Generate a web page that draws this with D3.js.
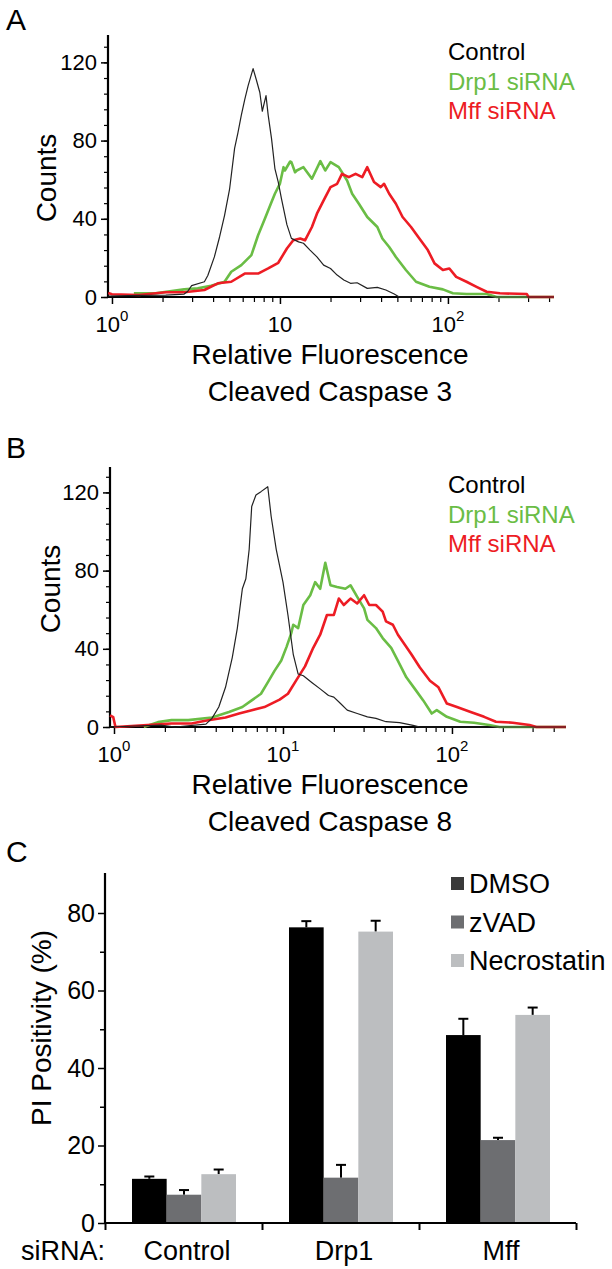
<!DOCTYPE html>
<html lang="en">
<head>
<meta charset="utf-8">
<title>Caspase histograms and PI positivity</title>
<script src="https://cdn.jsdelivr.net/npm/d3@7"></script>
<style>
  body { margin: 0; background: #fff; }
  text { font-family: "Liberation Sans", Arial, sans-serif; fill: #000; }
</style>
</head>
<body>
<script>
// ---- data: panel A (cleaved caspase 3), [fluorescence, counts]
var ctrlA = [[0.95,0.5],[1.45,0.8],[2.09,1],[2.69,1.5],[2.82,2.8],[2.98,5.8],[3.55,7.8],[3.72,11],[4.07,20.5],[4.37,30.7],[4.68,41.8],[5.01,55],[5.37,76],[5.62,84],[5.89,93],[6.17,101],[6.46,108],[6.92,116.8],[7.24,111],[7.59,104.6],[7.85,95],[8.26,103],[8.51,93],[8.91,81],[9.33,65.7],[9.77,58.8],[10.2,50.4],[11.0,37],[11.7,30],[12.9,28.2],[13.8,27.5],[15.1,24],[16.6,20.5],[18.2,16.3],[20.0,14.6],[21.9,11.2],[24.0,8.7],[26.3,7],[28.8,7.3],[33.1,4.4],[38.0,4.9],[42.7,3.6],[47.9,1.5],[51.3,0],[428,0]];
var drp1A = [[1.35,1.9],[1.82,1.9],[2.69,3.9],[3.24,4.4],[3.89,5.8],[4.68,7.8],[5.13,12.9],[5.89,16.3],[6.76,21.4],[7.41,31.6],[8.13,40],[8.91,48.6],[9.33,52.8],[10,58],[10.5,66.4],[10.7,64.7],[11.5,69.3],[11.7,69],[12.3,63.8],[12.6,64.7],[13.8,66.4],[15.5,60.5],[17.4,69.5],[18.6,64.7],[20.0,69],[22.4,66.4],[25.1,59.6],[26.9,52.8],[29.5,47.7],[33.1,40.9],[38.0,35.8],[40.7,29.9],[44.7,25.6],[49.0,20.5],[56.2,13.8],[64.6,7.8],[77.6,5.2],[93.3,3.9],[107,1.9],[129,1.5],[170,1.5],[195,0],[428,0]];
var mffA = [[0.95,2],[1.0,1.4],[1.45,1],[2.09,2.4],[2.69,2.4],[3.55,3.6],[4.27,7],[5.13,7.8],[6.17,12],[7.41,12],[8.51,14.6],[9.77,17.5],[11.0,24.8],[12.0,29],[13.2,29.9],[14.1,29],[15.5,35.8],[16.6,42.6],[18.2,49.4],[20.0,56.2],[21.9,57.9],[23.4,63],[25.7,61.3],[28.2,63],[30.9,61.3],[33.1,66.4],[36.3,58.8],[39.8,56.2],[41.7,57.9],[44.7,52.8],[49.0,47.7],[53.7,40.9],[60.3,35.8],[67.6,29.9],[75.9,24],[83.2,17.2],[93.3,13.8],[102,14.6],[112,10.3],[129,7.8],[148,5.2],[170,2.7],[204,1.9],[295,1.5],[302,0],[428,0]];

// ---- data: panel B (cleaved caspase 8)
var ctrlB = [[0.947,0],[1.9,1],[2.3,0],[3.5,1.5],[3.8,4.4],[4.17,10.2],[4.57,20.3],[5.01,35.5],[5.37,50.6],[5.75,70.7],[6.03,75.8],[6.31,90.9],[6.53,112.8],[6.92,118.7],[7.41,120.4],[8.13,122.9],[8.51,107.8],[9.12,90.9],[10,74.1],[10.7,57.3],[11.5,37.2],[12.3,27.1],[13.2,26.2],[14.8,22.8],[16.6,19.5],[18.6,16.1],[20,15.3],[21.9,12],[24,8.6],[27.5,6.9],[31.6,5.2],[35.5,4.4],[40.7,2.7],[49,2.2],[58.9,0.8],[64.6,0],[473,0]];
var drp1B = [[1.5,0],[1.82,2.5],[2.19,3.5],[2.75,3.5],[3.8,4.9],[4.79,7.7],[5.75,10.2],[6.53,13.6],[7.41,17],[8.13,22.8],[8.91,28.7],[9.77,34],[10.5,41],[11.2,48],[11.5,52.3],[12.3,50.6],[13.2,62.4],[14.5,67.4],[15.5,74.1],[16.6,70.7],[17.8,84],[19.1,72.5],[20.9,71.6],[23.4,70.7],[25.1,72.5],[27.5,66.6],[30.2,60.7],[31.6,54.8],[35.5,50.6],[38.9,45.5],[43.7,40.5],[47.9,33.8],[53.7,25.4],[60.3,19.5],[67.6,13.6],[75.9,6.9],[81.3,8.6],[93.3,5.2],[112,2.7],[135,2.2],[166,1],[191,0],[473,0]];
var mffB = [[0.947,6],[0.99,5],[1.02,0],[1.58,1],[2.19,1.8],[2.88,1.8],[3.47,3.2],[4.57,4.9],[5.5,6.9],[6.53,8.6],[7.76,10.2],[9.55,14],[10.7,17],[12,24],[13.5,31],[15.1,40.5],[16.6,47.2],[18.2,57.3],[20,57.3],[21.4,65.7],[22.9,62.4],[25.1,65.7],[27.5,63.2],[30.2,67.4],[32.4,62.4],[35.5,62.4],[38.9,59],[40.7,54],[44.7,52.3],[47.9,47.2],[52.5,42.2],[57.5,37.2],[64.6,30.4],[74.1,23.7],[83.2,20.3],[93.3,12],[107,10.2],[129,7.7],[155,5.2],[182,2.7],[229,2.2],[288,1],[316,0],[473,0]];

var histLegend = ["Control", "Drp1 siRNA", "Mff siRNA"];
var histTicksY = [0, 40, 80, 120];

// ---- data: panel C (PI positivity %)
var groups = ["Control", "Drp1", "Mff"];
var treatments = ["DMSO", "zVAD", "Necrostatin"];
var dmso = [11.4, 76.3, 48.5];
var dmsoErr = [0.6, 1.6, 4.2];
var zvad = [7.3, 11.7, 21.4];
var zvadErr = [1.2, 3.3, 0.6];
var necro = [12.6, 75.2, 53.7];
var necroErr = [1.2, 2.8, 1.9];
var barTicksY = [0, 20, 40, 60, 80];

var W = 612, H = 1269;
var lineColors = ["#222222", "#6abd45", "#ed1c24"];
var barColors = ["#000000", "#6d6e71", "#bcbec0"];
var legendSwatch = ["#3a3a3a", "#6d6e71", "#bcbec0"];

var svg = d3.select("body").append("svg")
    .attr("width", W)
    .attr("height", H);

function histPanel(o) {
    var x = d3.scaleLog().domain(o.xDomain).range(o.xRange);
    var y = d3.scaleLinear().domain([0, o.yMax]).range([o.y0, o.yTop]);
    var g = svg.append("g");

    // minor y ticks every 8
    g.append("g")
        .attr("transform", "translate(" + o.xRange[0] + ",0)")
        .call(d3.axisLeft(y).tickValues(d3.range(0, o.yMax, 8)).tickSize(4).tickFormat(""))
        .call(function(s) { s.select(".domain").remove(); s.selectAll("line").attr("stroke-width", 1.2); });
    // major y ticks
    g.append("g")
        .attr("transform", "translate(" + o.xRange[0] + ",0)")
        .call(d3.axisLeft(y).tickValues(histTicksY).tickSize(7).tickPadding(4))
        .call(function(s) {
            s.select(".domain").remove();
            s.selectAll("line").attr("stroke-width", 1.5);
            s.selectAll("text").style("font-size", "22px").attr("font-family", null);
        });

    // x ticks
    var minor = [2,3,4,5,6,7,8,9,20,30,40,50,60,70,80,90,200,300,400]
        .filter(function(v) { return v < o.xDomain[1]; });
    g.append("g")
        .attr("transform", "translate(0," + o.y0 + ")")
        .call(d3.axisBottom(x).tickValues(minor).tickSize(5).tickFormat(""))
        .call(function(s) { s.select(".domain").remove(); s.selectAll("line").attr("stroke-width", 1.2); });
    g.append("g")
        .attr("transform", "translate(0," + o.y0 + ")")
        .call(d3.axisBottom(x).tickValues([1, 10, 100]).tickSize(7).tickFormat(""))
        .call(function(s) { s.select(".domain").remove(); s.selectAll("line").attr("stroke-width", 1.5); });

    // axis lines
    g.append("line").attr("x1", o.xRange[0]).attr("x2", o.xRange[0])
        .attr("y1", o.yTop).attr("y2", o.y0 + 1)
        .attr("stroke", "#000").attr("stroke-width", 2.2);
    g.append("line").attr("x1", o.xRange[0] - 1).attr("x2", o.xRange[1])
        .attr("y1", o.y0).attr("y2", o.y0)
        .attr("stroke", "#000").attr("stroke-width", 2.2);

    // x tick labels with exponents
    o.xLabels.forEach(function(l) {
        var t = g.append("text")
            .attr("x", x(l.v))
            .attr("y", o.y0 + 35)
            .attr("text-anchor", "middle")
            .style("font-size", "22px");
        t.append("tspan").text("10");
        if (l.sup !== null) {
            t.append("tspan").attr("dy", -11).style("font-size", "15px").text(l.sup);
        }
    });

    // curves
    var line = d3.line()
        .x(function(d) { return x(d[0]); })
        .y(function(d) { return y(d[1]); });
    var series = [o.green, o.red, o.black];
    var cols = [lineColors[1], lineColors[2], lineColors[0]];
    var widths = [2.6, 2.6, 1.2];
    series.forEach(function(s, i) {
        g.append("path")
            .datum(s)
            .attr("d", line)
            .attr("fill", "none")
            .attr("stroke", cols[i])
            .attr("stroke-width", widths[i])
            .attr("stroke-linejoin", "round");
    });

    // legend
    histLegend.forEach(function(name, i) {
        g.append("text")
            .attr("x", o.legX)
            .attr("y", o.legY + i * 29.5)
            .style("font-size", "24px")
            .style("fill", lineColors[i] === "#222222" ? "#000" : lineColors[i])
            .text(name);
    });

    // axis titles
    g.append("text")
        .attr("transform", "translate(" + (o.countsX + 10) + "," + o.countsY + ") rotate(-90)")
        .attr("text-anchor", "middle")
        .style("font-size", "28px")
        .text("Counts");
    g.append("text")
        .attr("x", 330).attr("y", o.y0 + 67)
        .attr("text-anchor", "middle")
        .style("font-size", "28px")
        .text("Relative Fluorescence");
    g.append("text")
        .attr("x", 330).attr("y", o.y0 + 104)
        .attr("text-anchor", "middle")
        .style("font-size", "28px")
        .text(o.title);

    g.append("text")
        .attr("x", o.letterX).attr("y", o.letterY)
        .style("font-size", "30px")
        .text(o.letter);
}

histPanel({
    xDomain: [0.947, 428], xRange: [108, 554],
    yMax: 134, y0: 297, yTop: 35,
    xLabels: [{v: 1, sup: "0"}, {v: 10, sup: null}, {v: 100, sup: "2"}],
    black: ctrlA, green: drp1A, red: mffA,
    legX: 448, legY: 60,
    countsX: 46, countsY: 178,
    title: "Cleaved Caspase 3",
    letter: "A", letterX: 6, letterY: 30
});

histPanel({
    xDomain: [0.947, 473], xRange: [110, 566],
    yMax: 133, y0: 727, yTop: 467,
    xLabels: [{v: 1, sup: "0"}, {v: 10, sup: "1"}, {v: 100, sup: "2"}],
    black: ctrlB, green: drp1B, red: mffB,
    legX: 448, legY: 493,
    countsX: 50, countsY: 589,
    title: "Cleaved Caspase 8",
    letter: "B", letterX: 6, letterY: 458
});

// ---- panel C: grouped bars
(function() {
    var left = 105, right = 576, y0 = 1223, yTop = 873;
    var x0 = d3.scaleBand().domain(groups).range([left, right]).padding(0);
    var x1 = d3.scaleBand().domain(treatments).range([27, 131]).padding(0);
    var y = d3.scaleLinear().domain([0, 90]).range([y0, y0 - 90 * 3.875]);
    var g = svg.append("g");

    var vals = [dmso, zvad, necro];
    var errs = [dmsoErr, zvadErr, necroErr];
    var rows = [];
    groups.forEach(function(gr, gi) {
        treatments.forEach(function(t, ti) {
            rows.push({group: gr, t: t, ti: ti, v: vals[ti][gi], e: errs[ti][gi]});
        });
    });

    // error bars (drawn first so bar top covers stem base)
    var eb = g.selectAll(".err").data(rows).enter().append("g");
    eb.append("line")
        .attr("x1", function(d) { return x0(d.group) + x1(d.t) + x1.bandwidth() / 2; })
        .attr("x2", function(d) { return x0(d.group) + x1(d.t) + x1.bandwidth() / 2; })
        .attr("y1", function(d) { return y(d.v); })
        .attr("y2", function(d) { return y(d.v + d.e); })
        .attr("stroke", "#000").attr("stroke-width", 2);
    eb.append("line")
        .attr("x1", function(d) { return x0(d.group) + x1(d.t) + x1.bandwidth() / 2 - 5; })
        .attr("x2", function(d) { return x0(d.group) + x1(d.t) + x1.bandwidth() / 2 + 5; })
        .attr("y1", function(d) { return y(d.v + d.e); })
        .attr("y2", function(d) { return y(d.v + d.e); })
        .attr("stroke", "#000").attr("stroke-width", 2);

    g.selectAll("rect.bar").data(rows).enter().append("rect")
        .attr("class", "bar")
        .attr("x", function(d) { return x0(d.group) + x1(d.t); })
        .attr("width", x1.bandwidth())
        .attr("y", function(d) { return y(d.v); })
        .attr("height", function(d) { return y0 - y(d.v); })
        .attr("fill", function(d) { return barColors[d.ti]; });

    // y axis
    g.append("g")
        .attr("transform", "translate(" + left + ",0)")
        .call(d3.axisLeft(y).tickValues([10, 30, 50, 70]).tickSize(5).tickFormat(""))
        .call(function(s) { s.select(".domain").remove(); s.selectAll("line").attr("stroke-width", 1.5); });
    g.append("g")
        .attr("transform", "translate(" + left + ",0)")
        .call(d3.axisLeft(y).tickValues(barTicksY).tickSize(7).tickPadding(3))
        .call(function(s) {
            s.select(".domain").remove();
            s.selectAll("line").attr("stroke-width", 1.5);
            s.selectAll("text").style("font-size", "25px").attr("font-family", null);
        });
    // x axis boundary ticks
    g.append("g")
        .attr("transform", "translate(0," + y0 + ")")
        .call(d3.axisBottom(d3.scaleLinear().domain([0, 3]).range([left, right])).tickValues([0, 1, 2, 3]).tickSize(7).tickFormat(""))
        .call(function(s) { s.select(".domain").remove(); s.selectAll("line").attr("stroke-width", 2); });

    g.append("line").attr("x1", left).attr("x2", left).attr("y1", yTop).attr("y2", y0 + 1)
        .attr("stroke", "#000").attr("stroke-width", 2.2);
    g.append("line").attr("x1", left - 1).attr("x2", right).attr("y1", y0).attr("y2", y0)
        .attr("stroke", "#000").attr("stroke-width", 2.2);

    // category labels
    g.selectAll("text.cat").data(groups).enter().append("text")
        .attr("class", "cat")
        .attr("x", function(d) { return x0(d) + (27 + 131) / 2 + 3; })
        .attr("y", 1260)
        .attr("text-anchor", "middle")
        .style("font-size", "27px")
        .text(function(d) { return d; });
    g.append("text").attr("x", 21).attr("y", 1260).style("font-size", "27px").text("siRNA:");

    g.append("text")
        .attr("transform", "translate(51,1028) rotate(-90)")
        .attr("text-anchor", "middle")
        .style("font-size", "28px")
        .text("PI Positivity (%)");

    // legend
    treatments.forEach(function(t, i) {
        g.append("rect").attr("x", 451).attr("y", 877 + i * 38.5)
            .attr("width", 13).attr("height", 13).attr("fill", legendSwatch[i]);
        g.append("text").attr("x", 469).attr("y", 893 + i * 38.5)
            .style("font-size", "27px").text(t);
    });

    g.append("text").attr("x", 6).attr("y", 862).style("font-size", "30px").text("C");
})();
</script>
</body>
</html>
